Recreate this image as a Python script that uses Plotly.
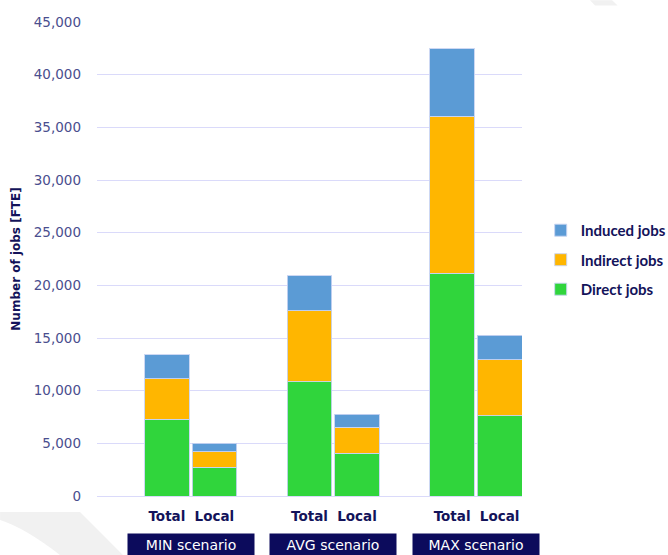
import plotly.graph_objects as go

# Employment effects per scenario, split into Total and Local
scenarios = ["MIN scenario", "AVG scenario", "MAX scenario"]
kinds = ["Total", "Local"]
direct_jobs = [7300, 2750, 10850, 4050, 21150, 7600]
indirect_jobs = [3850, 1450, 6750, 2500, 14900, 5350]
induced_jobs = [2250, 800, 3300, 1200, 6400, 2300]

y_ticks = [0, 5000, 10000, 15000, 20000, 25000, 30000, 35000, 40000, 45000]

# bar positions: two bars per scenario, one empty slot between scenarios
group_step = len(kinds) + 1
xpos = [g * group_step + k for g in range(len(scenarios)) for k in range(len(kinds))]
xlabels = [k for _ in scenarios for k in kinds]
group_centers = [g * group_step + (len(kinds) - 1) / 2 for g in range(len(scenarios))]

NAVY = "#13135a"
TICK = "#4a4e8e"
GRID = "#dadafa"
FONT = "DejaVu Sans"

series = [
    ("Direct jobs", direct_jobs, "#30d53c"),
    ("Indirect jobs", indirect_jobs, "#ffb600"),
    ("Induced jobs", induced_jobs, "#5b9bd5"),
]

fig = go.Figure()
for i, (name, vals, color) in enumerate(series):
    fig.add_trace(go.Bar(
        x=xpos, y=vals, name=name, width=0.94,
        marker=dict(color=color, line=dict(color="rgba(200,212,242,0.9)", width=1)),
        legendgroup=name, legendrank=len(series) - i,
    ))

fig.update_layout(
    barmode="stack",
    width=668, height=555,
    margin=dict(l=97, r=146, t=22, b=59, autoexpand=False),
    paper_bgcolor="white", plot_bgcolor="white",
    font=dict(family=FONT, color=NAVY),
    showlegend=True,
    legend=dict(
        x=1.044, xanchor="left", y=0.498, yanchor="middle",
        traceorder="grouped", tracegroupgap=7,
        font=dict(family="Lato", size=15, color=NAVY, weight="bold"),
        itemwidth=30, bgcolor="rgba(0,0,0,0)",
    ),
    xaxis=dict(
        range=[-1.47, 7.47],
        tickmode="array", tickvals=xpos,
        ticktext=[f"<b>{t}</b>" for t in xlabels],
        tickfont=dict(family=FONT, size=13.5, color=NAVY),
        showgrid=False, zeroline=False, showline=False,
        ticks="", ticklabelstandoff=10,
    ),
    yaxis=dict(
        range=[0, 45000],
        tickmode="array", tickvals=y_ticks,
        ticktext=[f"{v:,}" for v in y_ticks],
        tickfont=dict(family=FONT, size=13.5, color=TICK),
        gridcolor=GRID, gridwidth=1.3,
        zeroline=True, zerolinecolor=GRID, zerolinewidth=1.3,
        showline=False, ticks="", ticklabelstandoff=15,
        title=dict(text="<b>Number of jobs [FTE]</b>",
                   font=dict(family=FONT, size=12, color=NAVY), standoff=10),
    ),
)

# faint background decorations
fig.add_shape(type="path", xref="paper", yref="paper", layer="below",
              path="M -0.228,-0.0338 L -0.04,-0.0338 L 0.061,-0.1245 L -0.087,-0.1245 Q -0.169,-0.0675 -0.228,-0.0506 Z",
              fillcolor="#f1f1f1", line=dict(width=0))
fig.add_shape(type="path", xref="paper", yref="paper", layer="below",
              path="M 1.16,1.046 L 1.212,1.046 L 1.225,1.035 L 1.172,1.035 Z",
              fillcolor="#f1f1f1", line=dict(width=0))

# scenario name boxes under each pair of bars
for cx, label in zip(group_centers, scenarios):
    fig.add_annotation(
        x=cx, xref="x", y=-0.1035, yref="paper", yanchor="middle",
        text=label, showarrow=False,
        font=dict(family=FONT, size=14, color="white"),
        bgcolor="#0c0b5c", width=124, height=20, borderpad=1,
    )

fig.write_html("out.html")
